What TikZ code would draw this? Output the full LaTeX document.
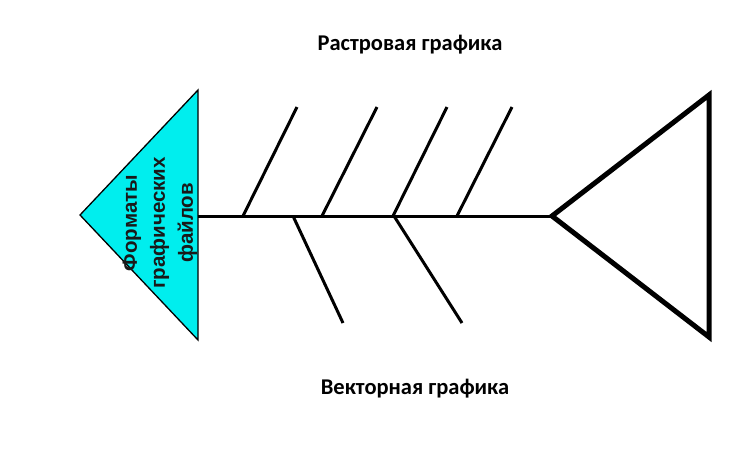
\documentclass[tikz,border=0pt]{standalone}
\usepackage{fontspec}
\setmainfont{Carlito}
\newfontfamily\headfont{Liberation Sans}
\usepackage{tikz}
\definecolor{fishcyan}{RGB}{0,238,238}

\begin{document}
\begin{tikzpicture}[x=1pt,y=-1pt]
    \useasboundingbox (0,0) rectangle (750,448);
    \tikzset{bone/.style={line width=3pt}}
    % head and tail
    \coordinate (nose) at (80,215);
    \coordinate (headtop) at (198,90);
    \coordinate (headbot) at (198,340);
    \coordinate (tail) at (552,216);
    \draw[fill=fishcyan,line width=1.3pt] (nose) -- (headtop) -- (headbot) -- cycle;
    \draw[line width=5pt,line join=miter] (tail) -- (709,95) -- (709,337) -- cycle;
    \draw[bone] (198,216) to (tail);
    % upper bones
    \foreach \a/\b in {243/297,322/377,393/447,457/512}{
      \draw[bone] (\a,216) to (\b,107);
    };
    % lower bones
    \foreach \a/\b in {293/343,394/462}{
      \draw[bone] (\a,216) to (\b,323);
    };
    \node[rotate=90,align=center,font=\headfont\bfseries\fontsize{20.5}{28}\selectfont,text=black!90] (title) at (160,223) {Форматы\\графических\\файлов};
    \node[font=\bfseries\fontsize{22.5}{26}\selectfont] (raster) at (410,45) {Растровая графика};
    \node[font=\bfseries\fontsize{22.5}{26}\selectfont] (vector) at (415,389) {Векторная графика};
\end{tikzpicture}
\end{document}
